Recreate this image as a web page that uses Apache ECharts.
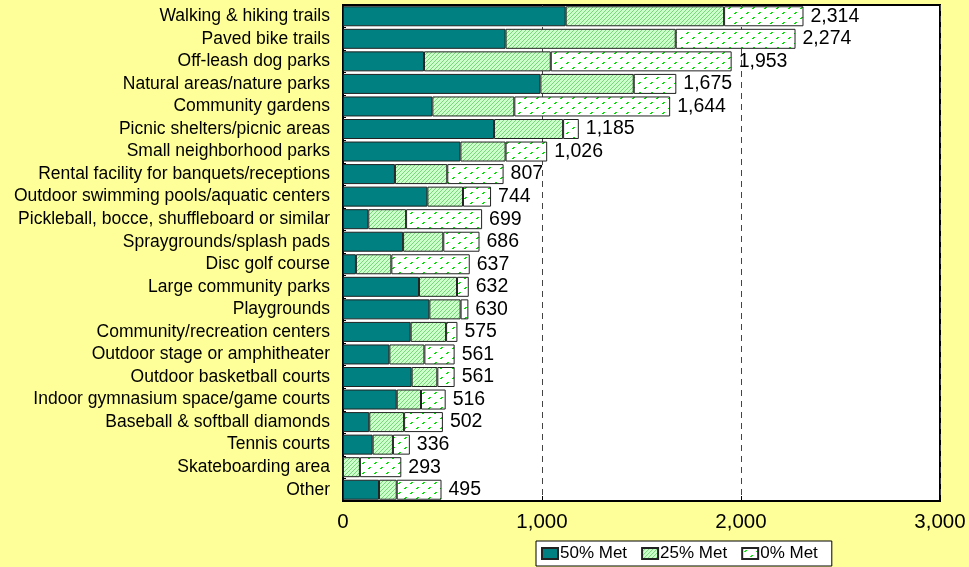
<!DOCTYPE html>
<html>
<head>
<meta charset="utf-8">
<script src="https://cdn.jsdelivr.net/npm/echarts@6/dist/echarts.min.js"></script>
<style>
html,body{margin:0;padding:0;background:#FFFF99;}
#chart{width:969px;height:567px;}
</style>
</head>
<body>
<div id="chart"></div>
<script>
var categories = ["Walking & hiking trails","Paved bike trails","Off-leash dog parks","Natural areas/nature parks","Community gardens","Picnic shelters/picnic areas","Small neighborhood parks","Rental facility for banquets/receptions","Outdoor swimming pools/aquatic centers","Pickleball, bocce, shuffleboard or similar","Spraygrounds/splash pads","Disc golf course","Large community parks","Playgrounds","Community/recreation centers","Outdoor stage or amphitheater","Outdoor basketball courts","Indoor gymnasium space/game courts","Baseball & softball diamonds","Tennis courts","Skateboarding area","Other"];
var met50 = [1119,817,407,992,449,759,590,261,424,127,302,65,382,434,340,233,345,270,132,149,0,181];
var met25 = [796,855,637,469,412,347,227,263,179,190,202,178,191,157,178,176,129,122,175,102,85,89];
var met0  = [399,602,909,214,783,79,209,283,141,382,182,394,59,39,57,152,87,124,195,85,208,225];
var totals = [2314,2274,1953,1675,1644,1185,1026,807,744,699,686,637,632,630,575,561,561,516,502,336,293,495];
var xTicks = [0,1000,2000,3000];

function hatch(){
  var c=document.createElement('canvas');c.width=4;c.height=4;
  var g=c.getContext('2d');
  g.fillStyle='#ccffcc';g.fillRect(0,0,4,4);
  g.fillStyle='#77d877';
  for(var i=0;i<4;i++){g.fillRect(i,3-i,1,1);}
  return c;
}
function dots(){
  var c=document.createElement('canvas');c.width=12;c.height=10;
  var g=c.getContext('2d');
  g.fillStyle='#ffffff';g.fillRect(0,0,12,10);
  g.fillStyle='#00e600';
  g.fillRect(3,2,2,1);g.fillRect(2,3,2,1);
  g.fillRect(9,7,2,1);g.fillRect(8,8,2,1);
  return c;
}
var FONT='"Liberation Sans", Arial, sans-serif';
var chart=echarts.init(document.getElementById('chart'));
var border={borderColor:'#222',borderWidth:1};
chart.setOption({
  backgroundColor:'#FFFF99',
  animation:false,
  textStyle:{fontFamily:FONT},
  grid:{left:343,top:5,width:597,height:496,show:true,backgroundColor:'#fff',borderColor:'#000',borderWidth:2,containLabel:false},
  legend:{
    left:536,top:541,data:['50% Met','25% Met','0% Met'],
    backgroundColor:'#fff',borderColor:'#000',borderWidth:1,padding:[4,14,4,5],
    icon:'rect',itemWidth:16,itemHeight:11,itemGap:14,
    textStyle:{fontSize:17,color:'#000',fontFamily:FONT,padding:[0,0,0,-3]}
  },
  xAxis:{
    type:'value',min:0,max:3000,interval:1000,
    axisLine:{show:true,lineStyle:{color:'#000',width:1}},
    axisTick:{show:true,inside:true,length:5,lineStyle:{color:'#000'}},
    axisLabel:{fontSize:20.5,color:'#000',margin:11,fontFamily:FONT,
      formatter:function(v){return v.toLocaleString('en-US');}},
    splitLine:{show:true,lineStyle:{color:'#444',type:[6,5],width:1}}
  },
  yAxis:{
    type:'category',data:categories,inverse:true,
    axisLine:{show:true,lineStyle:{color:'#000'}},
    axisTick:{show:true,inside:true,length:3,lineStyle:{color:'#000'}},
    axisLabel:{interval:0,fontSize:17.5,lineHeight:20,color:'#000',margin:13,fontFamily:FONT}
  },
  series:[
    {name:'50% Met',type:'bar',stack:'a',data:met50,barWidth:20,
      itemStyle:Object.assign({color:'#008080'},border)},
    {name:'25% Met',type:'bar',stack:'a',data:met25,barWidth:20,
      itemStyle:Object.assign({color:{image:hatch(),repeat:'repeat'}},border)},
    {name:'0% Met',type:'bar',stack:'a',data:met0,barWidth:20,
      itemStyle:Object.assign({color:{image:dots(),repeat:'repeat'}},border),
      label:{show:true,position:'right',distance:7,fontSize:19.5,color:'#000',fontFamily:FONT,
        formatter:function(p){return totals[p.dataIndex].toLocaleString('en-US');}}}
  ]
});
</script>
</body>
</html>
